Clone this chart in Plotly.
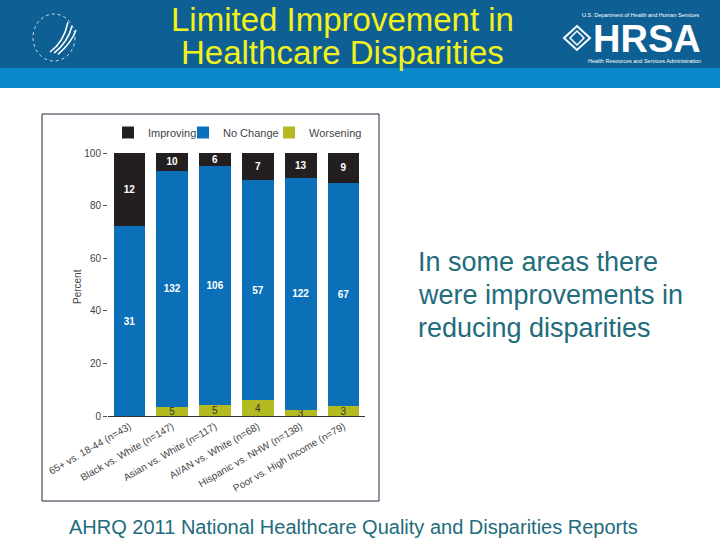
import plotly.graph_objects as go

# comparison groups (x-axis tick labels)
groups = [
    "65+ vs. 18-44 (n=43)",
    "Black vs. White (n=147)",
    "Asian vs. White (n=117)",
    "AI/AN vs. White (n=68)",
    "Hispanic vs. NHW (n=138)",
    "Poor vs. High Income (n=79)",
]

# counts printed in the bars
improving_n = [12, 10, 6, 7, 13, 9]
no_change_n = [31, 132, 106, 57, 122, 67]
worsening_n = [0, 5, 5, 4, 3, 3]

# bar heights in percent
improving_pct = [27.9, 6.8, 5.1, 10.3, 9.4, 11.4]
no_change_pct = [72.1, 89.8, 90.6, 83.8, 88.4, 84.8]
worsening_pct = [0.0, 3.4, 4.3, 5.9, 2.2, 3.8]

y_ticks = [0, 20, 40, 60, 80, 100]

title_lines = ["Limited Improvement in", "Healthcare Disparities"]
side_lines = ["In some areas there", "were improvements in", "reducing disparities"]
source = "AHRQ 2011 National Healthcare Quality and Disparities Reports"

W, H = 720, 540
FONT = "Arial, Liberation Sans, sans-serif"
TEAL = "#226c7b"


def px(x):
    return x / W


def py(y):
    return 1 - y / H


def note(text, x, y, size, color, xanchor="center", **kw):
    return dict(text=text, x=px(x), y=py(y), xref="paper", yref="paper",
                xanchor=xanchor, yanchor="middle", showarrow=False,
                font=dict(family=FONT, size=size, color=color, **kw.pop("font_extra", {})),
                **kw)


def legend_box(x):
    return dict(orientation="h", x=px(x), y=py(118), xanchor="left", yanchor="top",
                itemwidth=30, font=dict(size=11, color="#444444"),
                bgcolor="rgba(0,0,0,0)")


fig = go.Figure()

fig.add_trace(go.Bar(
    x=groups, y=worsening_pct, name="Worsening", legend="legend3", showlegend=True,
    marker=dict(color="#b4bb22", line=dict(width=0)),
    text=[str(v) if v else "" for v in worsening_n],
    textposition="inside", insidetextanchor="middle", textangle=0,
    textfont=dict(color="#333333", size=10, family=FONT),
))
fig.add_trace(go.Bar(
    x=groups, y=no_change_pct, name="No Change", legend="legend2", showlegend=True,
    marker=dict(color="#0c70b8", line=dict(width=0)),
    text=[str(v) for v in no_change_n],
    textposition="inside", insidetextanchor="middle", textangle=0,
    textfont=dict(color="white", size=10, family=FONT, weight="bold"),
))
fig.add_trace(go.Bar(
    x=groups, y=improving_pct, name="Improving", legend="legend", showlegend=True,
    marker=dict(color="#231f20", line=dict(width=0)),
    text=[str(v) for v in improving_n],
    textposition="inside", insidetextanchor="middle", textangle=0,
    textfont=dict(color="white", size=10, family=FONT, weight="bold"),
))

shapes = [
    # header bands
    dict(type="rect", xref="paper", yref="paper", x0=0, x1=1, y0=py(68), y1=1,
         fillcolor="#0e5f94", line=dict(width=0), layer="below"),
    dict(type="rect", xref="paper", yref="paper", x0=0, x1=1, y0=py(88), y1=py(68),
         fillcolor="#0a87c9", line=dict(width=0), layer="below"),
    # chart frame
    dict(type="rect", xref="paper", yref="paper", x0=px(42), x1=px(379), y0=py(501), y1=py(114),
         line=dict(color="#1d2b3a", width=1), fillcolor="rgba(0,0,0,0)"),
    # HHS seal ring
    dict(type="circle", xref="paper", yref="paper", x0=px(33), x1=px(75), y0=py(61), y1=py(14),
         line=dict(color="rgba(255,255,255,0.8)", width=1, dash="dot")),
    # HRSA emblem
    dict(type="path", xref="paper", yref="paper",
         path=f"M {px(564)} {py(38)} L {px(577)} {py(26)} L {px(590)} {py(38)} L {px(577)} {py(50)} Z",
         line=dict(color="white", width=2)),
    dict(type="path", xref="paper", yref="paper",
         path=f"M {px(570)} {py(38)} L {px(577)} {py(31)} L {px(584)} {py(38)} L {px(577)} {py(45)} Z",
         line=dict(color="white", width=1.5)),
]

# eagle wing strokes
for dx in (0, 4, 8):
    shapes.append(dict(
        type="path", xref="paper", yref="paper",
        path=f"M {px(50 + dx)} {py(52 + dx * 0.3)} Q {px(64 + dx)} {py(42)} {px(68 + dx)} {py(22 + dx)}",
        line=dict(color="white", width=1.5)))

annotations = [
    note(title_lines[0], 342, 19, 33, "#f2f21a"),
    note(title_lines[1], 342, 52, 33, "#f2f21a"),
    note("HRSA", 647, 39, 38, "white", font_extra=dict(weight="bold")),
    note("U.S. Department of Health and Human Services", 640, 15, 5.5, "white"),
    note("Health Resources and Services Administration", 644, 61, 5.5, "white"),
    note("Percent", 77, 287, 10, "#444444", textangle=-90),
    note(source, 353, 527, 20, TEAL),
]
for i, line in enumerate(side_lines):
    annotations.append(note(line, 416, 262 + 33 * i, 27, TEAL, xanchor="left"))

fig.update_layout(
    width=W, height=H,
    margin=dict(l=0, r=0, t=0, b=0, autoexpand=False),
    paper_bgcolor="white", plot_bgcolor="white",
    barmode="stack", bargap=0.26,
    font=dict(family=FONT, color="#444444"),
    uniformtext=dict(minsize=10, mode="show"),
    showlegend=True,
    legend=legend_box(108),
    legend2=legend_box(183),
    legend3=legend_box(269),
    xaxis=dict(domain=[px(108), px(365)], showline=True, linecolor="#333333", linewidth=1,
               tickangle=-30, tickfont=dict(size=10, color="#444444"), ticks="",
               automargin=False),
    yaxis=dict(domain=[py(416), py(153)], range=[0, 100], tickvals=y_ticks,
               showgrid=False, zeroline=False, showline=False,
               ticks="outside", ticklen=4, tickcolor="#555555",
               tickfont=dict(size=10, color="#444444"), automargin=False),
    shapes=shapes,
    annotations=annotations,
)

fig.write_html("out.html", config={"displayModeBar": False},
               post_script="document.body.style.margin = '0';")
